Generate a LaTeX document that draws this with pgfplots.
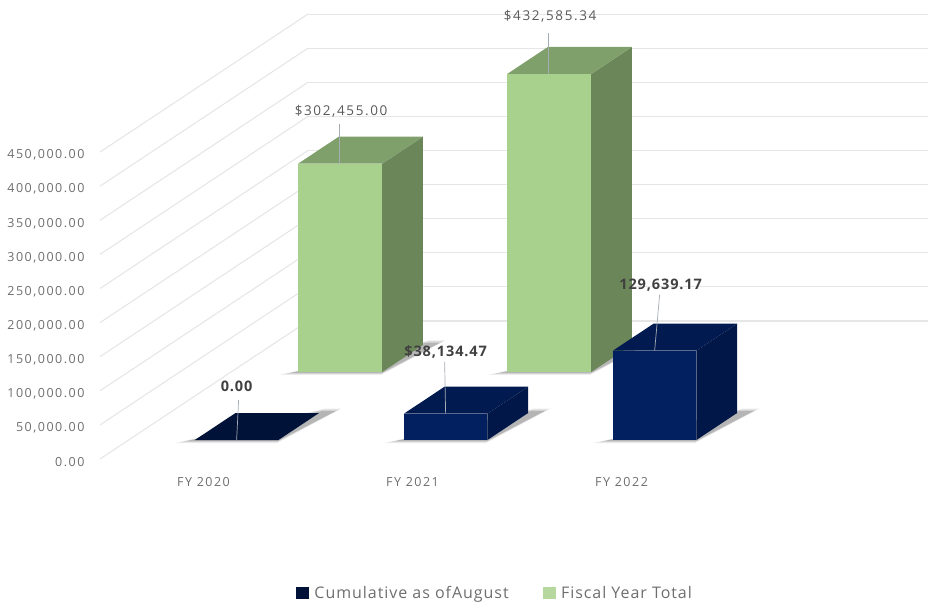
\documentclass[border=0pt]{standalone}
\usepackage{fontspec}
\setmainfont{Open Sans}
\newfontfamily\tickfont[LetterSpace=12]{Open Sans}
\newfontfamily\boldfont[LetterSpace=6]{Open Sans}
\newfontfamily\legendfont[LetterSpace=6]{Open Sans}
\usepackage{pgfplots}
\pgfplotsset{compat=1.18}

\definecolor{greenfront}{HTML}{A9D18E}
\definecolor{greenside}{HTML}{6B8759}
\definecolor{greentop}{HTML}{7F9F6B}
\definecolor{navyfront}{HTML}{02205F}
\definecolor{navyside}{HTML}{011748}
\definecolor{navytop}{HTML}{011A50}
\definecolor{navyflat}{HTML}{011238}
\definecolor{gridgrey}{HTML}{E6E6E6}
\definecolor{labelgrey}{HTML}{595959}
\definecolor{boldgrey}{HTML}{404040}
\definecolor{ticksgrey}{HTML}{6E6E6E}
\definecolor{leader}{HTML}{A6ACB4}

% one box: x0, x1, depth front, depth back, value ($), colour prefix
% bars stand a little taller than the wall scale, as in the original's perspective
\newcommand{\barbox}[6]{
  \addplot3[forget plot, fill=#6front, draw=none] table[row sep=\\, z expr=\thisrow{z}/990] {
    x y z\\ #1 #3 0\\ #2 #3 0\\ #2 #3 #5\\ #1 #3 #5\\
  };
  \addplot3[forget plot, fill=#6side, draw=none] table[row sep=\\, z expr=\thisrow{z}/990] {
    x y z\\ #2 #3 0\\ #2 #4 0\\ #2 #4 #5\\ #2 #3 #5\\
  };
  \addplot3[forget plot, fill=#6top, draw=none] table[row sep=\\, z expr=\thisrow{z}/990] {
    x y z\\ #1 #3 #5\\ #2 #3 #5\\ #2 #4 #5\\ #1 #4 #5\\
  };
}
% floor shadow in stacked layers: x0, x1, depth front, depth back
\newcommand{\shadowlayer}[9]{
  \addplot3[forget plot, fill=black, fill opacity=#9, draw=none]
    table[row sep=\\, x expr=\thisrow{x}+\thisrow{dx}, y expr=\thisrow{y}+\thisrow{dy}, z expr=0] {
    x dx y dy\\ #1 #5 #3 #7\\ #2 #6 #3 #7\\ #2 #6+0.06 #4 #8\\ #2 0 #4 #8\\
  };
}
\newcommand{\floorshadow}[4]{
  \shadowlayer{#1}{#2}{#3}{#4}{-0.07}{0.015}{-3}{4.5}{0.08}
  \shadowlayer{#1}{#2}{#3}{#4}{-0.05}{0.01}{-2}{3.5}{0.10}
  \shadowlayer{#1}{#2}{#3}{#4}{-0.03}{0.005}{-1}{2}{0.14}
}

\begin{document}
\begin{tikzpicture}
\path[use as bounding box] (0,0) rectangle (928pt,605pt);
\begin{axis}[
    at={(208pt,146pt)}, anchor=origin,
    x={(209pt,0pt)}, y={(1.507pt,1pt)}, z={(0pt,0.682pt)},
    xmin=-0.5167, xmax=2.45, ymin=0, ymax=138, zmin=0, zmax=450,
    clip=false,
    axis line style={draw=none},
    major tick length=0pt,
    xmajorgrids=false, ymajorgrids=false, zmajorgrids=true,
    grid style={gridgrey, line width=1.1pt},
    xtick={0,1,2},
    xticklabels={FY 2020, FY 2021, FY 2022},
    ytick=\empty,
    ztick={0,50,100,150,200,250,300,350,400,450},
    zticklabels={0.00,{50,000.00},{100,000.00},{150,000.00},{200,000.00},{250,000.00},{300,000.00},{350,000.00},{400,000.00},{450,000.00}},
    tick label style={font=\fontsize{12.5}{14}\tickfont, text=ticksgrey},
    x tick label style={anchor=north, xshift=-4.5pt, yshift=-15pt},
    z tick label style={anchor=east, xshift=-12pt, yshift=-3pt},
    legend columns=2,
    legend style={at={(axis description cs:0.477,-0.301)}, anchor=center, draw=none, fill=none,
      font=\fontsize{16}{18}\legendfont, text=ticksgrey,
      /tikz/every even column/.append style={column sep=32pt}},
]
\addlegendimage{legend image code/.code={\fill[navyflat] (0pt,-5.5pt) rectangle (12pt,5.5pt); \path (16pt,0pt);}}
\addlegendentry{Cumulative as ofAugust}
\addlegendimage{legend image code/.code={\fill[greenfront!85!white] (0pt,-5.5pt) rectangle (12pt,5.5pt); \path (16pt,0pt);}}
\addlegendentry{Fiscal Year Total}

% fiscal year totals, back row
\floorshadow{-0.196}{0.206}{87}{114}
\floorshadow{0.804}{1.206}{87}{114}
\barbox{-0.196}{0.206}{87}{114}{302455.00}{green}
\barbox{0.804}{1.206}{87}{114}{432585.34}{green}

% cumulative as of August, front row
\floorshadow{-0.2}{0.2}{19}{46}
\floorshadow{0.8}{1.2}{19}{46}
\floorshadow{1.8}{2.2}{19}{46}
\addplot3[forget plot, fill=navyflat, draw=none] table[row sep=\\] {
  x y z\\ -0.2 19 0\\ 0.2 19 0\\ 0.2 46 0\\ -0.2 46 0\\
};
\barbox{0.8}{1.2}{19}{46}{38134.47}{navy}
\barbox{1.8}{2.2}{19}{46}{129639.17}{navy}

% leader lines
\draw[leader, line width=0.7pt] (axis cs:0.0,87,305.51) -- ++(0pt,40pt);
\draw[leader, line width=0.7pt] (axis cs:1.0,87,436.96) -- ++(0pt,41pt);
\draw[leader, line width=0.7pt] (axis cs:0.0,19,0) -- ++(2pt,40pt);
\draw[leader, line width=0.7pt] (axis cs:1.0,19,38.52) -- ++(-1pt,52pt);
\draw[leader, line width=0.7pt] (axis cs:2.0,19,130.95) -- ++(5pt,56pt);

% data labels
\tikzset{vlabel/.style={font=\fontsize{13.5}{15}\tickfont, text=labelgrey, inner sep=0pt},
         blabel/.style={font=\fontsize{14.5}{16}\boldfont\bfseries, text=boldgrey, inner sep=0pt}}
\node[vlabel] at (axis cs:0.0,87,305.51) [yshift=52pt, xshift=2pt] {\$302,455.00};
\node[vlabel] at (axis cs:1.0,87,436.96) [yshift=58pt, xshift=2pt] {\$432,585.34};
\node[blabel] at (axis cs:0.0,19,0) [yshift=54pt, xshift=0pt] {0.00};
\node[blabel] at (axis cs:1.0,19,38.52) [yshift=62pt, xshift=0pt] {\$38,134.47};
\node[blabel] at (axis cs:2.0,19,130.95) [yshift=66pt, xshift=6pt] {129,639.17};
\end{axis}
\end{tikzpicture}
\end{document}
